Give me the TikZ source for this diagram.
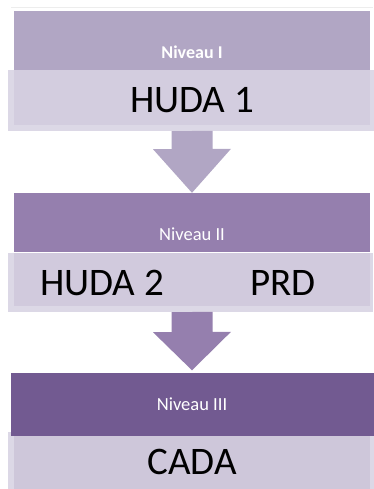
\documentclass[tikz,border=0pt]{standalone}
\usepackage{fontspec}
\setmainfont{Carlito}
\definecolor{lvlone}{HTML}{B1A6C4}
\definecolor{lvltwo}{HTML}{957FAE}
\definecolor{lvlthree}{HTML}{725A91}
\definecolor{bandout}{HTML}{DCD8E6}
\definecolor{bandone}{HTML}{D3CDDF}
\definecolor{bandtwo}{HTML}{D1CADD}
\definecolor{bandthree}{HTML}{CEC7DA}

\begin{document}
\begin{tikzpicture}[x=1pt, y=-1pt,
                    box/.style={rectangle, inner sep=0pt, minimum width=#1},
                    lvltext/.style={inner sep=0pt, text=white, font=\fontsize{18.5}{22}\selectfont},
                    bandtext/.style={inner sep=0pt, text=black, font=\fontsize{39}{46}\selectfont}]
                    \useasboundingbox (0,0) rectangle (374,489);
                    \draw[black!7, line width=0.8pt] (11,7) -- (373,7);

                    \node[box=356pt, minimum height=59pt, fill=lvlone] (box1) at (192,40.5) {};
                    \node[lvltext, font=\fontsize{18}{22}\selectfont\bfseries] (niv1) at (192,51.8) {Niveau I};
                    \node[box=366pt, minimum height=61pt, fill=bandout] (band1) at (191,100.5) {};
                    \node[box=356pt, minimum height=55pt, fill=bandone] (band1in) at (192,97.5) {};
                    \node[bandtext] (huda1) at (192,100.5) {HUDA 1};

                    \node[box=356pt, minimum height=59pt, fill=lvltwo] (box2) at (192,222.5) {};
                    \node[lvltext] (niv2) at (192,233.8) {Niveau II};
                    \node[box=365pt, minimum height=59pt, fill=bandout] (band2) at (190.5,282.5) {};
                    \node[box=356pt, minimum height=53pt, fill=bandtwo] (band2in) at (192,279.5) {};
                    \node[bandtext] (huda2) at (102,282.5) {HUDA 2};
                    \node[bandtext] (prd) at (283,282.5) {PRD};

                    \node[box=366pt, minimum height=57pt, fill=bandout] (band3) at (191,460.5) {};
                    \node[box=356pt, minimum height=57pt, fill=bandthree] (band3in) at (192,460.5) {};
                    \node[bandtext] (cada) at (192,461.5) {CADA};
                    \node[box=363pt, minimum height=63pt, fill=lvlthree] (box3) at (192.5,404.5) {};
                    \node[lvltext] (niv3) at (192,404.5) {Niveau III};

                    \fill[lvlone] (band1.south -| box1.south) ++(-20.5,0) -- ++(0,18) -- ++(-18.5,0)
                        -- (box2.north) -- ++(39,-44) -- ++(-18.5,0) -- ++(0,-18) -- cycle;
                    \fill[lvltwo] (band2.south -| box2.south) ++(-20.5,0) -- ++(0,20) -- ++(-18.5,0)
                        -- ([yshift=2.5pt]box3.north -| box2.south) -- ++(39,-38.5) -- ++(-18.5,0) -- ++(0,-20) -- cycle;
                \end{tikzpicture}
\end{document}
